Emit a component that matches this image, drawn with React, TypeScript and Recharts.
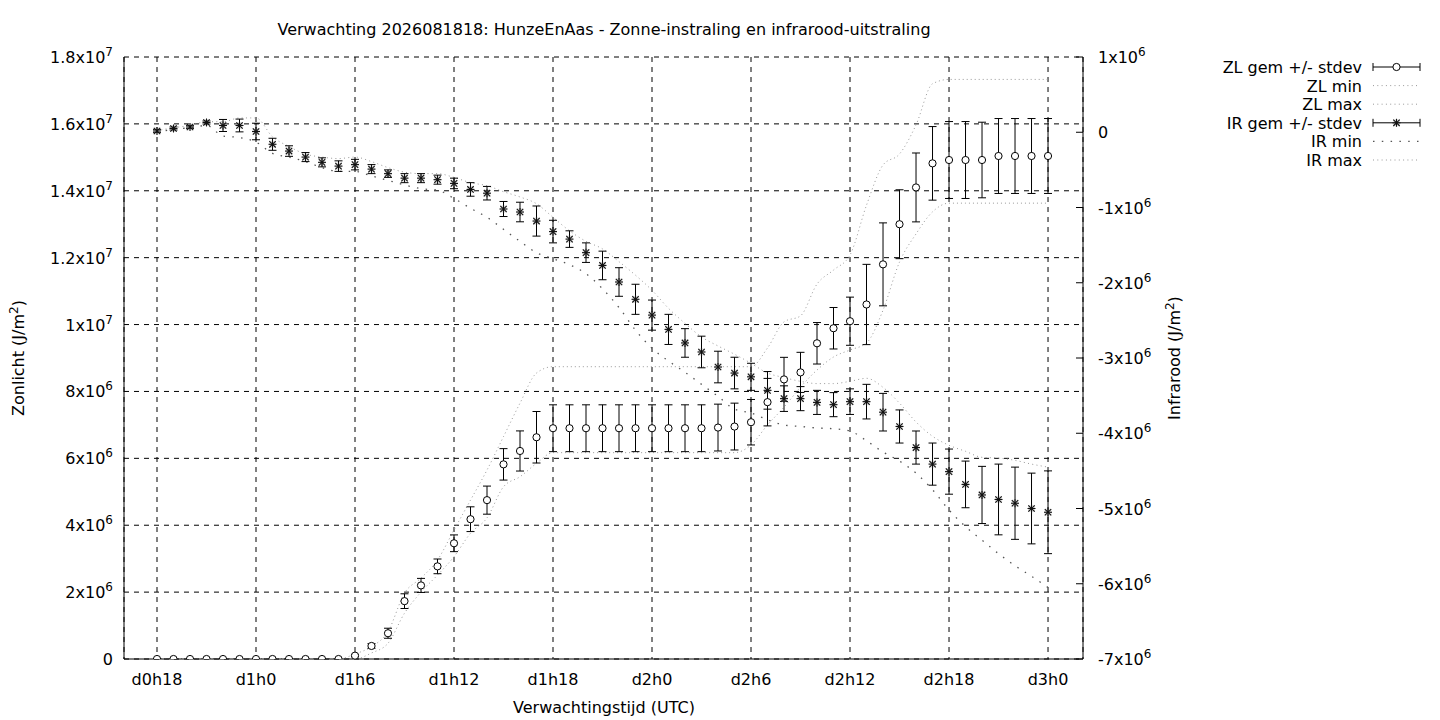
import React from 'react';
import { ComposedChart, Scatter, Line, XAxis, YAxis, CartesianGrid, ErrorBar } from 'recharts';

const FONT = "'DejaVu Sans', sans-serif";

// forecast hour (hours after d0h0)
const hours = [
  18, 19, 20, 21, 22, 23, 24, 25, 26, 27, 28, 29, 30, 31, 32, 33, 34, 35, 36,
  37, 38, 39, 40, 41, 42, 43, 44, 45, 46, 47, 48, 49, 50, 51, 52, 53, 54,
  55, 56, 57, 58, 59, 60, 61, 62, 63, 64, 65, 66, 67, 68, 69, 70, 71, 72,
];

// Zonlicht (units of 1e6 J/m2)
const zlMean = [
  0, 0, 0, 0, 0, 0, 0, 0, 0, 0, 0, 0, 0.1, 0.39, 0.77, 1.73, 2.2, 2.77, 3.46,
  4.18, 4.75, 5.82, 6.22, 6.63, 6.9, 6.9, 6.9, 6.9, 6.9, 6.9, 6.9, 6.9, 6.9, 6.9, 6.92, 6.95, 7.08,
  7.68, 8.36, 8.57, 9.44, 9.89, 10.1, 10.6, 11.8, 13.0, 14.1, 14.82, 14.92, 14.92, 14.92, 15.04, 15.04, 15.04, 15.04,
];
const zlStdev = [
  0, 0, 0, 0, 0, 0, 0, 0, 0, 0, 0, 0, 0.03, 0.07, 0.15, 0.22, 0.21, 0.22, 0.25,
  0.37, 0.42, 0.47, 0.6, 0.77, 0.7, 0.7, 0.7, 0.7, 0.7, 0.7, 0.7, 0.7, 0.7, 0.7, 0.7, 0.7, 0.68,
  0.71, 0.66, 0.6, 0.62, 0.62, 0.72, 1.2, 1.24, 1.03, 1.03, 1.1, 1.15, 1.15, 1.13, 1.12, 1.12, 1.12, 1.12,
];
const zlMin = [
  0, 0, 0, 0, 0, 0, 0, 0, 0, 0, 0, 0, 0, 0.18, 0.47, 1.37, 2.0, 2.51, 3.06,
  3.76, 4.22, 5.15, 5.45, 5.85, 6.17, 6.17, 6.17, 6.17, 6.17, 6.17, 6.17, 6.17, 6.17, 6.17, 6.17, 6.17, 6.4,
  7.0, 7.53, 8.13, 8.64, 9.03, 9.24, 9.45, 10.43, 11.87, 12.71, 13.37, 13.63, 13.63, 13.63, 13.63, 13.63, 13.63, 13.63,
];
const zlMax = [
  0, 0, 0, 0, 0, 0, 0, 0, 0, 0, 0, 0, 0.15, 0.37, 0.82, 1.97, 2.42, 2.96, 3.86,
  4.75, 5.65, 6.65, 7.65, 8.55, 8.74, 8.74, 8.74, 8.74, 8.74, 8.74, 8.74, 8.74, 8.74, 8.74, 8.74, 8.74, 8.74,
  9.3, 10.08, 10.26, 11.21, 11.63, 12.08, 13.57, 14.77, 15.1, 15.97, 17.2, 17.33, 17.33, 17.33, 17.33, 17.33, 17.33, 17.33,
];

// Infrarood (units of 1e6 J/m2)
const irMean = [
  0.017, 0.05, 0.07, 0.13, 0.09, 0.09, 0.01, -0.16, -0.25, -0.33, -0.4, -0.45, -0.43, -0.49, -0.55, -0.61, -0.61, -0.63, -0.68,
  -0.76, -0.81, -1.02, -1.06, -1.18, -1.32, -1.42, -1.6, -1.77, -1.99, -2.22, -2.43, -2.62, -2.8, -2.92, -3.12, -3.2, -3.25,
  -3.43, -3.54, -3.54, -3.59, -3.62, -3.58, -3.58, -3.72, -3.91, -4.19, -4.41, -4.51, -4.68, -4.82, -4.88, -4.93, -5.0, -5.05,
];
const irStdev = [
  0.02, 0.02, 0.02, 0.02, 0.08, 0.085, 0.11, 0.08, 0.07, 0.06, 0.06, 0.07, 0.07, 0.06, 0.05, 0.06, 0.06, 0.06, 0.07,
  0.09, 0.09, 0.1, 0.13, 0.2, 0.15, 0.11, 0.13, 0.19, 0.19, 0.2, 0.2, 0.2, 0.19, 0.21, 0.21, 0.21, 0.18,
  0.25, 0.17, 0.16, 0.16, 0.16, 0.17, 0.23, 0.25, 0.22, 0.22, 0.28, 0.3, 0.31, 0.38, 0.47, 0.48, 0.47, 0.55,
];
const irMin = [
  0.0, 0.04, 0.06, 0.09, -0.05, -0.07, -0.13, -0.28, -0.33, -0.39, -0.47, -0.52, -0.52, -0.58, -0.64, -0.7, -0.75, -0.77, -0.88,
  -1.01, -1.13, -1.29, -1.45, -1.6, -1.68, -1.76, -1.88, -2.08, -2.33, -2.63, -2.87, -3.04, -3.19, -3.35, -3.51, -3.68, -3.73,
  -3.82, -3.89, -3.91, -3.93, -3.94, -3.97, -4.1, -4.25, -4.37, -4.53, -4.75, -5.02, -5.24, -5.42, -5.6, -5.76, -5.9, -6.05,
];
const irMax = [
  0.02, 0.06, 0.09, 0.14, 0.14, 0.19, 0.19, -0.06, -0.19, -0.29, -0.33, -0.35, -0.33, -0.39, -0.47, -0.53, -0.55, -0.55, -0.6,
  -0.67, -0.71, -0.79, -0.86, -0.95, -1.13, -1.31, -1.45, -1.55, -1.72, -1.9, -2.1, -2.34, -2.54, -2.72, -2.84, -2.95, -3.07,
  -3.2, -3.26, -3.31, -3.34, -3.34, -3.31, -3.27, -3.39, -3.6, -3.85, -4.04, -4.16, -4.24, -4.32, -4.33, -4.36, -4.41, -4.45,
];

const xTicks = [18, 24, 30, 36, 42, 48, 54, 60, 66, 72];
const xTickLabels = ['d0h18', 'd1h0', 'd1h6', 'd1h12', 'd1h18', 'd2h0', 'd2h6', 'd2h12', 'd2h18', 'd3h0'];
const leftTicks = [0, 2e6, 4e6, 6e6, 8e6, 1e7, 1.2e7, 1.4e7, 1.6e7, 1.8e7];
const leftTickLabels = [['0', ''], ['2', '6'], ['4', '6'], ['6', '6'], ['8', '6'], ['1', '7'], ['1.2', '7'], ['1.4', '7'], ['1.6', '7'], ['1.8', '7']];
const rightTicks = [-7e6, -6e6, -5e6, -4e6, -3e6, -2e6, -1e6, 0, 1e6];
const rightTickLabels = [['-7', '6'], ['-6', '6'], ['-5', '6'], ['-4', '6'], ['-3', '6'], ['-2', '6'], ['-1', '6'], ['0', ''], ['1', '6']];

const M = 1e6;
const table = hours.map((h, i) => ({
  h,
  zl: zlMean[i] * M,
  zlSd: zlStdev[i] * M,
  zlMin: zlMin[i] * M,
  zlMax: zlMax[i] * M,
  ir: irMean[i] * M,
  irSd: irStdev[i] * M,
  irMin: irMin[i] * M,
  irMax: irMax[i] * M,
}));

const FS = 16;
const SUP = 12;

const SupLabel = ({ x, y, anchor, m, e }: any) => (
  <text x={x} y={y} textAnchor={anchor} fontFamily={FONT} fontSize={FS} fill="#000">
    <tspan>{e ? `${m}x10` : m}</tspan>
    {e ? <tspan dy={-7} fontSize={SUP}>{e}</tspan> : null}
  </text>
);

const XTick = (props: any) => {
  const { x, y, payload } = props;
  const idx = xTicks.indexOf(payload.value);
  return (
    <text x={x} y={y + 26} textAnchor="middle" fontFamily={FONT} fontSize={FS} fill="#000">
      {xTickLabels[idx]}
    </text>
  );
};

const LeftTick = (props: any) => {
  const { x, y, payload } = props;
  const idx = leftTicks.indexOf(payload.value);
  const [m, e] = leftTickLabels[idx];
  return <SupLabel x={x} y={y + 6} anchor="end" m={m} e={e} />;
};

const RIGHT_MARGIN = 15;
const RightTick = (props: any) => {
  const { x, y, payload } = props;
  const idx = rightTicks.indexOf(payload.value);
  const [m, e] = rightTickLabels[idx];
  const edge = x - RIGHT_MARGIN;
  return (
    <g>
      <line x1={edge} y1={y} x2={edge - 7} y2={y} stroke="#000" strokeWidth={1} />
      <SupLabel x={x} y={y + 6} anchor="start" m={m} e={e} />
    </g>
  );
};

const Circle = (p: any) => (
  <circle cx={p.cx} cy={p.cy} r={3.6} fill="#fff" stroke="#000" strokeWidth={1} />
);

const Star = (p: any) => {
  const { cx, cy } = p;
  return (
    <g>
      <rect x={cx - 3.5} y={cy - 3.5} width={7} height={7} fill="#bbb" opacity={0.35} />
      <g stroke="#111" strokeWidth={1.1}>
        <line x1={cx - 4} y1={cy} x2={cx + 4} y2={cy} />
        <line x1={cx} y1={cy - 4} x2={cx} y2={cy + 4} />
        <line x1={cx - 3.2} y1={cy - 3.2} x2={cx + 3.2} y2={cy + 3.2} />
        <line x1={cx - 3.2} y1={cy + 3.2} x2={cx + 3.2} y2={cy - 3.2} />
      </g>
    </g>
  );
};

const legendRows = [
  { label: 'ZL gem +/- stdev', kind: 'zl' },
  { label: 'ZL min', kind: 'zlmin' },
  { label: 'ZL max', kind: 'zlmax' },
  { label: 'IR gem +/- stdev', kind: 'ir' },
  { label: 'IR min', kind: 'irmin' },
  { label: 'IR max', kind: 'irmax' },
];

const Overlay = () => {
  const lx1 = 1373;
  const lx2 = 1420;
  const textX = 1362;
  return (
    <svg width={1440} height={720} style={{ position: 'absolute', left: 0, top: 0, pointerEvents: 'none' }}>
      <text x={604} y={35} textAnchor="middle" fontFamily={FONT} fontSize={FS} fill="#000">
        Verwachting 2026081818: HunzeEnAas - Zonne-instraling en infrarood-uitstraling
      </text>
      <text x={604} y={713} textAnchor="middle" fontFamily={FONT} fontSize={FS} fill="#000">
        Verwachtingstijd (UTC)
      </text>
      <text transform="translate(24,358) rotate(-90)" textAnchor="middle" fontFamily={FONT} fontSize={FS} fill="#000">
        <tspan>Zonlicht (J/m</tspan>
        <tspan dy={-6} fontSize={SUP}>2</tspan>
        <tspan dy={6}>)</tspan>
      </text>
      <text transform="translate(1180,358) rotate(-90)" textAnchor="middle" fontFamily={FONT} fontSize={FS} fill="#000">
        <tspan>Infrarood (J/m</tspan>
        <tspan dy={-6} fontSize={SUP}>2</tspan>
        <tspan dy={6}>)</tspan>
      </text>
      {legendRows.map((r, i) => {
        const y = 67 + i * 18.6;
        const mid = (lx1 + lx2) / 2;
        let sample: any = null;
        if (r.kind === 'zl' || r.kind === 'ir') {
          sample = (
            <g>
              <line x1={lx1} y1={y} x2={lx2} y2={y} stroke="#000" />
              <line x1={lx1} y1={y - 4} x2={lx1} y2={y + 4} stroke="#000" />
              <line x1={lx2} y1={y - 4} x2={lx2} y2={y + 4} stroke="#000" />
              {r.kind === 'zl' ? <Circle cx={mid} cy={y} /> : <Star cx={mid} cy={y} />}
            </g>
          );
        } else if (r.kind === 'irmin') {
          sample = <line x1={lx1} y1={y} x2={lx2} y2={y} stroke="#555" strokeWidth={1.3} strokeDasharray="1.5 7.3" />;
        } else {
          sample = <line x1={lx1} y1={y} x2={lx2} y2={y} stroke="#999" strokeWidth={1} strokeDasharray="1 3.3" />;
        }
        return (
          <g key={r.label}>
            <text x={textX} y={y + 6} textAnchor="end" fontFamily={FONT} fontSize={FS} fill="#000">
              {r.label}
            </text>
            {sample}
          </g>
        );
      })}
    </svg>
  );
};

export default function App() {
  return (
    <div style={{ position: 'absolute', left: 0, top: 0, width: 1440, height: 720, background: '#fff' }}>
      <ComposedChart
        width={1440}
        height={720}
        data={table}
        margin={{ top: 57, right: 257, bottom: 0, left: 0 }}
      >
        <CartesianGrid
          yAxisId="left"
          stroke="#000"
          strokeDasharray="5 5"
          strokeWidth={1}
        />
        <XAxis
          dataKey="h"
          type="number"
          domain={[16, 74.12]}
          ticks={xTicks}
          allowDataOverflow
          height={61}
          tickLine={false}
          tickSize={0}
          tickMargin={0}
          tick={<XTick />}
          axisLine={{ stroke: '#000' }}
          interval={0}
        />
        <XAxis
          xAxisId="top"
          orientation="top"
          dataKey="h"
          type="number"
          domain={[16, 74.12]}
          allowDataOverflow
          height={0}
          tick={false}
          tickLine={false}
          axisLine={{ stroke: '#000' }}
        />
        <YAxis
          yAxisId="left"
          type="number"
          domain={[0, 1.8e7]}
          ticks={leftTicks}
          allowDataOverflow
          width={124}
          tickLine={false}
          tickSize={0}
          tickMargin={11}
          tick={<LeftTick />}
          axisLine={{ stroke: '#000' }}
          interval={0}
        />
        <YAxis
          yAxisId="right"
          orientation="right"
          type="number"
          domain={[-7e6, 1e6]}
          ticks={rightTicks}
          allowDataOverflow
          width={100}
          tickLine={false}
          tickSize={0}
          tickMargin={RIGHT_MARGIN}
          tick={<RightTick />}
          axisLine={{ stroke: '#000' }}
          interval={0}
        />
        <Line yAxisId="left" dataKey="zlMin" type="monotone" stroke="#999" strokeWidth={1} strokeDasharray="1 3" dot={false} activeDot={false} isAnimationActive={false} />
        <Line yAxisId="left" dataKey="zlMax" type="monotone" stroke="#999" strokeWidth={1} strokeDasharray="1 3" dot={false} activeDot={false} isAnimationActive={false} />
        <Line yAxisId="right" dataKey="irMin" type="monotone" stroke="#555" strokeWidth={1.3} strokeDasharray="1.5 7.3" dot={false} activeDot={false} isAnimationActive={false} />
        <Line yAxisId="right" dataKey="irMax" type="monotone" stroke="#999" strokeWidth={1} strokeDasharray="1 3.3" dot={false} activeDot={false} isAnimationActive={false} />
        <Scatter yAxisId="left" data={table} dataKey="zl" shape={Circle} isAnimationActive={false}>
          <ErrorBar dataKey="zlSd" direction="y" width={4} stroke="#000" strokeWidth={1} isAnimationActive={false} />
        </Scatter>
        <Scatter yAxisId="right" data={table} dataKey="ir" shape={Star} isAnimationActive={false}>
          <ErrorBar dataKey="irSd" direction="y" width={4} stroke="#000" strokeWidth={1} isAnimationActive={false} />
        </Scatter>
      </ComposedChart>
      <Overlay />
    </div>
  );
}
